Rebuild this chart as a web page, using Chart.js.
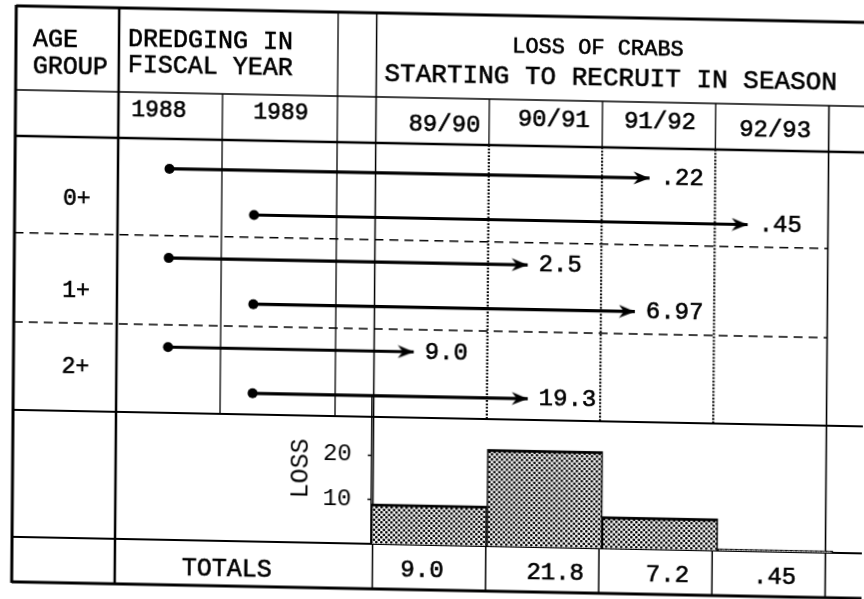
<!DOCTYPE html>
<html>
<head>
<meta charset="utf-8">
<script src="https://cdn.jsdelivr.net/npm/chart.js@4.4.0/dist/chart.umd.min.js"></script>
<style>
html, body { margin: 0; padding: 0; background: #fff; overflow: hidden; }
#hoja { position: absolute; left: 0; top: 0; width: 864px; height: 599px;
        transform-origin: 432px 300px; transform: matrix(1, 0.0195, -0.008, 1, 0, 0); }
#tabla { position: absolute; left: 0; top: 0; }
#histo { position: absolute; left: 287px; top: 397px; }
</style>
</head>
<body>
<div id="hoja">
  <canvas id="tabla" width="864" height="599"></canvas>
  <canvas id="histo" width="548" height="148"></canvas>
</div>
<script>
// ---- datos ----
const ageGroups = ['0+', '1+', '2+'];
const dredgeYears = ['1988', '1989'];
const seasons = ['89/90', '90/91', '91/92', '92/93'];

// one arrow per age group and dredging year
const arrowAge = ['0+', '0+', '1+', '1+', '2+', '2+'];
const arrowYear = ['1988', '1989', '1988', '1989', '1988', '1989'];
const arrowEnd = [2.42, 3.29, 1.35, 2.30, 0.35, 1.36];   // season columns counted from 89/90
const arrowLoss = ['.22', '.45', '2.5', '6.97', '9.0', '19.3'];
const yearStart = [-1.82, -1.07];                        // where the 1988 / 1989 dots sit on that axis

const totals = [9.0, 21.8, 7.2, 0.45];
const totalLabels = ['9.0', '21.8', '7.2', '.45'];
const lossTicks = [10, 20];

// ---- layout ----
const W = 864, H = 599;
const seasonLeft = 373.5, seasonWidth = 115.375;
const rowTop = 170.5, rowStep = 45.8;
const typeFont = '"Courier New", "Nimbus Mono PS", "Nimbus Mono L", FreeMono, "Liberation Mono", monospace';
const gothFont = '"Liberation Mono", "DejaVu Sans Mono", monospace';

function txt(ctx, s, x, y, size, fam, align) {
    ctx.save();
    ctx.font = size + 'px ' + fam;
    ctx.textAlign = align || 'center';
    ctx.textBaseline = 'middle';
    ctx.fillStyle = '#000';
    ctx.strokeStyle = '#000';
    ctx.lineWidth = 0.6;   // typewriter ink is heavier than the screen font
    ctx.fillText(s, x, y);
    ctx.strokeText(s, x, y);
    ctx.restore();
}

function raya(ctx, x1, y1, x2, y2, w, dash) {
    ctx.save();
    ctx.strokeStyle = '#000';
    ctx.lineWidth = w;
    ctx.setLineDash(dash || []);
    ctx.beginPath();
    ctx.moveTo(x1, y1);
    ctx.lineTo(x2, y2);
    ctx.stroke();
    ctx.restore();
}

// arrowhead used as point style, tip at the centre of the image
const punta = document.createElement('canvas');
punta.width = 36; punta.height = 14;
const pc = punta.getContext('2d');
pc.fillStyle = '#000';
pc.beginPath();
pc.moveTo(18, 7); pc.lineTo(2, 0.5); pc.lineTo(7, 7); pc.lineTo(2, 13.5);
pc.closePath();
pc.fill();

// stipple for the loss bars
const tile = document.createElement('canvas');
tile.width = 5; tile.height = 5;
const tc = tile.getContext('2d');
tc.fillStyle = '#fff'; tc.fillRect(0, 0, 5, 5);
tc.fillStyle = '#000';
tc.beginPath(); tc.arc(1.25, 1.25, 1.35, 0, 2 * Math.PI); tc.fill();
tc.beginPath(); tc.arc(3.75, 3.75, 1.35, 0, 2 * Math.PI); tc.fill();
const punteado = tc.createPattern(tile, 'repeat');

const tablaPlugin = {
    id: 'tabla',
    beforeDatasetsDraw(chart) {
        const ctx = chart.ctx;
        const sx = v => chart.scales.x.getPixelForValue(v);
        const sy = v => chart.scales.y.getPixelForValue(v);
        const L = 14, C1 = 117, C2 = 221, C3 = 336, R = W;
        const T0 = 14, T1 = 98, T2 = 144, T3 = 418, T4 = 545, T5 = 590;
        const S = [0, 1, 2, 3, 4].map(sx);

        ctx.save();
        ctx.fillStyle = '#fff';
        ctx.fillRect(0, 0, W, H);
        ctx.restore();

        raya(ctx, L, T0, R, T0, 3);
        raya(ctx, L, T1, R, T1, 1.5);
        raya(ctx, L, T2, R, T2, 2.5);
        raya(ctx, L, T3, R, T3, 2);
        raya(ctx, L, T4, R, T4, 2);
        raya(ctx, L, T5, R, T5, 3);
        // age group separators
        [1.5, 3.5].forEach(r => raya(ctx, L, sy(r), S[4], sy(r), 1.6, [9, 6]));

        raya(ctx, L, T0 - 1, L, T5 + 1, 3);
        raya(ctx, C1, T0, C1, T5, 2.5);
        raya(ctx, C2, T1, C2, T3, 1.3);
        raya(ctx, C3, T0, C3, T3, 1.3);
        raya(ctx, S[0], T0, S[0], T5, 1.5);
        for (let i = 1; i < 4; i++) {
            raya(ctx, S[i], T1, S[i], T2, 1.3);
            raya(ctx, S[i], T2, S[i], T3, 2.2, [1.8, 1.6]);
            raya(ctx, S[i], T4, S[i], T5, 1.5);
        }
        raya(ctx, S[4], T1, S[4], T5, 1.6);
    },
    afterDatasetsDraw(chart) {
        const ctx = chart.ctx;
        const sx = v => chart.scales.x.getPixelForValue(v);

        txt(ctx, 'AGE', 31, 47, 25, typeFont, 'left');
        txt(ctx, 'GROUP', 31, 74, 25, typeFont, 'left');
        txt(ctx, 'DREDGING IN', 126, 45, 25, typeFont, 'left');
        txt(ctx, 'FISCAL YEAR', 126, 71, 25, typeFont, 'left');
        txt(ctx, 'LOSS OF CRABS', 596, 45, 22, gothFont);
        txt(ctx, 'STARTING TO RECRUIT IN SEASON', 609, 75, 26, typeFont);

        const yearX = [157.5, 279.5];
        dredgeYears.forEach((yr, i) => txt(ctx, yr, yearX[i], 116, 23, gothFont));

        const seasonDx = [12, 8, 1, 3], seasonY = [125, 118, 118, 124];
        seasons.forEach((s, i) => txt(ctx, s, sx(i + 0.5) + seasonDx[i], seasonY[i], 24, gothFont));

        const ageY = [206, 298, 374];
        ageGroups.forEach((g, i) => txt(ctx, g, 76, ageY[i], 23, gothFont));

        arrowLoss.forEach((lbl, i) => {
            const tip = chart.getDatasetMeta(i).data[1];
            txt(ctx, lbl, tip.x + 11, tip.y, 24, gothFont, 'left');
        });

        txt(ctx, 'TOTALS', 229, 573, 25, typeFont);
        const totDx = [-7, 13, 12, 6];
        totalLabels.forEach((t, i) => txt(ctx, t, sx(i + 0.5) + totDx[i], 571, 24, gothFont));
    }
};

const arrowSets = arrowLoss.map((lbl, i) => ({
    label: arrowAge[i] + ' ' + arrowYear[i],
    data: [
        { x: yearStart[dredgeYears.indexOf(arrowYear[i])], y: i },
        { x: arrowEnd[i], y: i }
    ],
    borderColor: '#000',
    borderWidth: 3.2,
    pointStyle: ['circle', punta],
    pointRadius: [5, 8],
    pointBackgroundColor: '#000',
    pointBorderWidth: 0,
    tension: 0
}));

new Chart(document.getElementById('tabla'), {
    type: 'line',
    data: { datasets: arrowSets },
    options: {
        responsive: false,
        animation: false,
        events: [],
        layout: { padding: 0 },
        plugins: { legend: { display: false }, tooltip: { enabled: false } },
        scales: {
            x: { type: 'linear', display: false, min: -seasonLeft / seasonWidth, max: (W - seasonLeft) / seasonWidth },
            y: { type: 'linear', display: false, reverse: true, min: -rowTop / rowStep, max: (H - rowTop) / rowStep }
        }
    },
    plugins: [tablaPlugin]
});

new Chart(document.getElementById('histo'), {
    type: 'bar',
    data: {
        labels: seasons,
        datasets: [{
            data: totals,
            backgroundColor: punteado,
            borderColor: '#000',
            borderWidth: { top: 3, left: 1.5, right: 1.5, bottom: 0 },
            borderSkipped: 'bottom',
            barPercentage: 1,
            categoryPercentage: 1
        }]
    },
    options: {
        responsive: false,
        animation: false,
        events: [],
        layout: { padding: 0 },
        plugins: { legend: { display: false }, tooltip: { enabled: false } },
        scales: {
            x: { display: false },
            y: {
                min: 0,
                max: 148 / 4.45,
                afterFit: s => { s.width = 86; s.paddingTop = 0; s.paddingBottom = 0; },
                afterBuildTicks: s => { s.ticks = lossTicks.map(v => ({ value: v })); },
                ticks: { color: '#000', padding: 16, font: { family: gothFont, size: 24 } },
                grid: { drawOnChartArea: false, drawTicks: true, tickLength: 4, tickColor: '#000', tickWidth: 1.5 },
                border: { display: true, color: '#000', width: 1.5 },
                title: { display: true, text: 'LOSS', color: '#000', padding: 0, font: { family: typeFont, size: 25 } }
            }
        }
    }
});
</script>
</body>
</html>
